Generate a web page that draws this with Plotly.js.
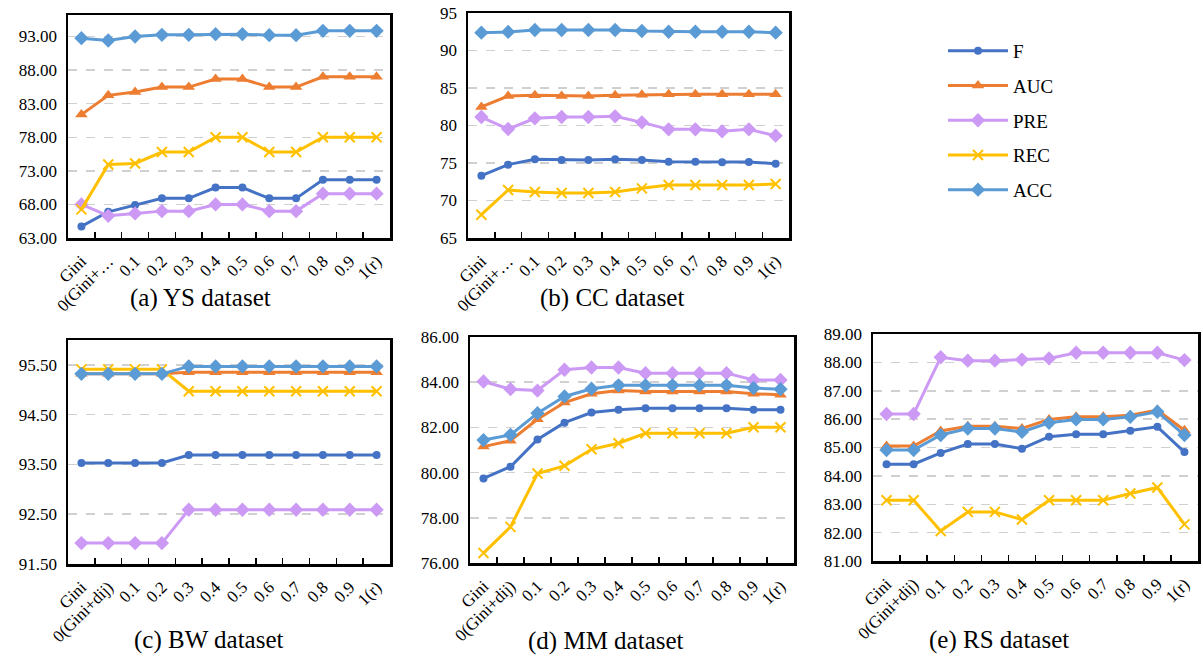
<!DOCTYPE html>
<html><head><meta charset="utf-8">
<script src="https://cdn.plot.ly/plotly-3.0.1.min.js"></script>
<style>html,body{margin:0;padding:0;background:#fff;}#chart{width:1203px;height:659px;}</style>
</head><body><div id="chart"></div>
<script>
// ---- categories / tick labels ----
const categories = ["Gini","0(Gini+dij)","0.1","0.2","0.3","0.4","0.5","0.6","0.7","0.8","0.9","1(r)"];
const shortLabels = ["Gini","0(Gini+…","0.1","0.2","0.3","0.4","0.5","0.6","0.7","0.8","0.9","1(r)"];
const seriesNames = ["F","AUC","PRE","REC","ACC"];
const panelTitles = ["(a) YS dataset","(b) CC dataset","(c) BW dataset","(d) MM dataset","(e) RS dataset"];

// ---- (a) YS ----
const ysF   = [64.73, 66.9, 67.9, 68.9, 68.9, 70.5, 70.5, 68.9, 68.9, 71.66, 71.66, 71.66];
const ysAUC = [81.37, 84.24, 84.73, 85.47, 85.47, 86.66, 86.66, 85.47, 85.47, 87.0, 87.0, 87.0];
const ysPRE = [68.0, 66.3, 66.66, 67.0, 67.0, 68.0, 68.0, 67.0, 67.0, 69.6, 69.6, 69.6];
const ysREC = [67.26, 73.94, 74.1, 75.8, 75.8, 78.0, 78.0, 75.8, 75.8, 78.0, 78.0, 78.0];
const ysACC = [92.75, 92.4, 93.0, 93.25, 93.25, 93.35, 93.35, 93.2, 93.2, 93.85, 93.85, 93.85];

// ---- (b) CC ----
const ccF   = [73.31, 74.78, 75.49, 75.4, 75.4, 75.49, 75.4, 75.18, 75.18, 75.09, 75.13, 74.91];
const ccAUC = [82.47, 83.93, 84.02, 83.93, 83.93, 84.02, 84.1, 84.16, 84.16, 84.16, 84.16, 84.16];
const ccPRE = [81.13, 79.53, 80.96, 81.13, 81.13, 81.22, 80.42, 79.49, 79.49, 79.22, 79.49, 78.64];
const ccREC = [68.11, 71.4, 71.13, 71.0, 71.0, 71.13, 71.62, 72.07, 72.07, 72.07, 72.07, 72.2];
const ccACC = [92.38, 92.47, 92.73, 92.73, 92.73, 92.73, 92.6, 92.5, 92.5, 92.5, 92.5, 92.38];

// ---- (c) BW ----
const bwF   = [93.53, 93.53, 93.53, 93.53, 93.69, 93.69, 93.69, 93.69, 93.69, 93.69, 93.69, 93.69];
const bwAUC = [95.32, 95.32, 95.32, 95.32, 95.35, 95.35, 95.35, 95.35, 95.35, 95.35, 95.35, 95.35];
const bwPRE = [91.92, 91.92, 91.92, 91.92, 92.59, 92.59, 92.59, 92.59, 92.59, 92.59, 92.59, 92.59];
const bwREC = [95.41, 95.41, 95.41, 95.41, 94.97, 94.97, 94.97, 94.97, 94.97, 94.97, 94.97, 94.97];
const bwACC = [95.32, 95.32, 95.32, 95.32, 95.47, 95.47, 95.47, 95.47, 95.47, 95.47, 95.47, 95.47];

// ---- (d) MM ----
const mmF   = [79.74, 80.26, 81.47, 82.21, 82.66, 82.78, 82.85, 82.85, 82.85, 82.85, 82.78, 82.78];
const mmAUC = [81.15, 81.41, 82.36, 83.1, 83.49, 83.63, 83.59, 83.59, 83.59, 83.59, 83.49, 83.44];
const mmPRE = [84.03, 83.69, 83.63, 84.55, 84.65, 84.65, 84.4, 84.4, 84.4, 84.4, 84.1, 84.1];
const mmREC = [76.44, 77.6, 79.96, 80.3, 81.03, 81.3, 81.74, 81.74, 81.74, 81.74, 82.01, 82.01];
const mmACC = [81.44, 81.67, 82.63, 83.37, 83.71, 83.86, 83.86, 83.86, 83.86, 83.86, 83.74, 83.69];

// ---- (e) RS ----
const rsF   = [84.41, 84.41, 84.81, 85.12, 85.12, 84.96, 85.38, 85.47, 85.47, 85.59, 85.73, 84.84];
const rsAUC = [85.05, 85.05, 85.58, 85.75, 85.75, 85.67, 85.99, 86.08, 86.08, 86.14, 86.32, 85.61];
const rsPRE = [86.18, 86.18, 88.18, 88.06, 88.06, 88.1, 88.14, 88.34, 88.34, 88.34, 88.34, 88.08];
const rsREC = [83.14, 83.14, 82.06, 82.73, 82.73, 82.46, 83.14, 83.14, 83.14, 83.38, 83.59, 82.29];
const rsACC = [84.91, 84.91, 85.44, 85.67, 85.67, 85.55, 85.87, 85.99, 85.99, 86.08, 86.26, 85.44];

// ---- styling ----
const colors = {F:"#4472C4", AUC:"#ED7D31", PRE:"#CC99F5", REC:"#FFC000", ACC:"#5B9BD5"};
const markers = {
  F:   {symbol:"circle", size:8},
  AUC: {symbol:"triangle-up", size:11},
  PRE: {symbol:"diamond", size:11},
  REC: {symbol:"x-thin", size:10},
  ACC: {symbol:"diamond", size:11}
};
const FONT = "Liberation Serif";
const W = 1203, H = 659;

const panels = [
  {data:[ysF,ysAUC,ysPRE,ysREC,ysACC], box:[68,15,390,238], range:[63,96.2], tick0:63, dtick:5, fmt:".2f", labels:shortLabels},
  {data:[ccF,ccAUC,ccPRE,ccREC,ccACC], box:[468,13,789,238], range:[65,95], tick0:65, dtick:5, fmt:"d", labels:shortLabels},
  {data:[bwF,bwAUC,bwPRE,bwREC,bwACC], box:[68,340,390,564], range:[91.5,96.0], tick0:91.5, dtick:1, fmt:".2f", labels:categories},
  {data:[mmF,mmAUC,mmPRE,mmREC,mmACC], box:[470,337,794,563], range:[76,86], tick0:76, dtick:2, fmt:".2f", labels:categories},
  {data:[rsF,rsAUC,rsPRE,rsREC,rsACC], box:[873,334,1198,561], range:[81,89], tick0:81, dtick:1, fmt:".2f", labels:categories}
];
const titlePos = [[200,298],[612,298],[209,640],[606,641],[999,640]];

const traces = [];
const layout = {
  width:W, height:H, margin:{l:0,r:0,t:0,b:0},
  paper_bgcolor:"#fff", plot_bgcolor:"#fff",
  font:{family:FONT, color:"#000", size:16},
  showlegend:true,
  legend:{x:943/W, y:1-32/H, xanchor:"left", yanchor:"top", bgcolor:"rgba(0,0,0,0)",
          font:{family:FONT, size:19, color:"#000"}, itemwidth:60, tracegroupgap:7},
  annotations:[]
};

panels.forEach((p, i) => {
  const ax = i === 0 ? "" : String(i+1);
  p.data.forEach((vals, s) => {
    const name = seriesNames[s];
    const sym = markers[name];
    traces.push({
      type:"scatter", mode:"lines+markers", name:name,
      x:categories, y:vals, xaxis:"x"+ax, yaxis:"y"+ax,
      legendgroup:name, showlegend:i === 0,
      line:{color:colors[name], width:3},
      marker:{symbol:sym.symbol, size:sym.size, color:colors[name],
              line:{color:colors[name], width:name === "REC" ? 2 : 0}}
    });
  });
  const [x0,y0,x1,y1] = p.box;
  layout["xaxis"+ax] = {
    domain:[x0/W, x1/W], anchor:"y"+ax, type:"category",
    range:[-0.5, categories.length-0.5],
    tickvals:categories, ticktext:p.labels, tickangle:-45,
    ticks:"inside", tickson:"boundaries", ticklen:6, tickwidth:1.5, tickcolor:"#000",
    showline:true, mirror:true, linecolor:"#000", linewidth:2.5,
    showgrid:false, zeroline:false, ticklabelstandoff:4,
    tickfont:{family:FONT, size:17, color:"#000"}
  };
  layout["yaxis"+ax] = {
    domain:[1-y1/H, 1-y0/H], anchor:"x"+ax, range:p.range,
    tick0:p.tick0, dtick:p.dtick, tickformat:p.fmt, ticks:"",
    showline:true, mirror:true, linecolor:"#000", linewidth:2.5,
    showgrid:true, gridcolor:"#D0D0D0", gridwidth:1.5, griddash:"dash",
    zeroline:false, ticklabelstandoff:5, tickfont:{family:FONT, size:17, color:"#000"}
  };
  layout.annotations.push({
    text:panelTitles[i], xref:"paper", yref:"paper",
    x:titlePos[i][0]/W, y:1-titlePos[i][1]/H, xanchor:"center", yanchor:"middle",
    showarrow:false, font:{family:FONT, size:25, color:"#000"}
  });
});

Plotly.newPlot("chart", traces, layout, {displayModeBar:false, staticPlot:true});
</script></body></html>
